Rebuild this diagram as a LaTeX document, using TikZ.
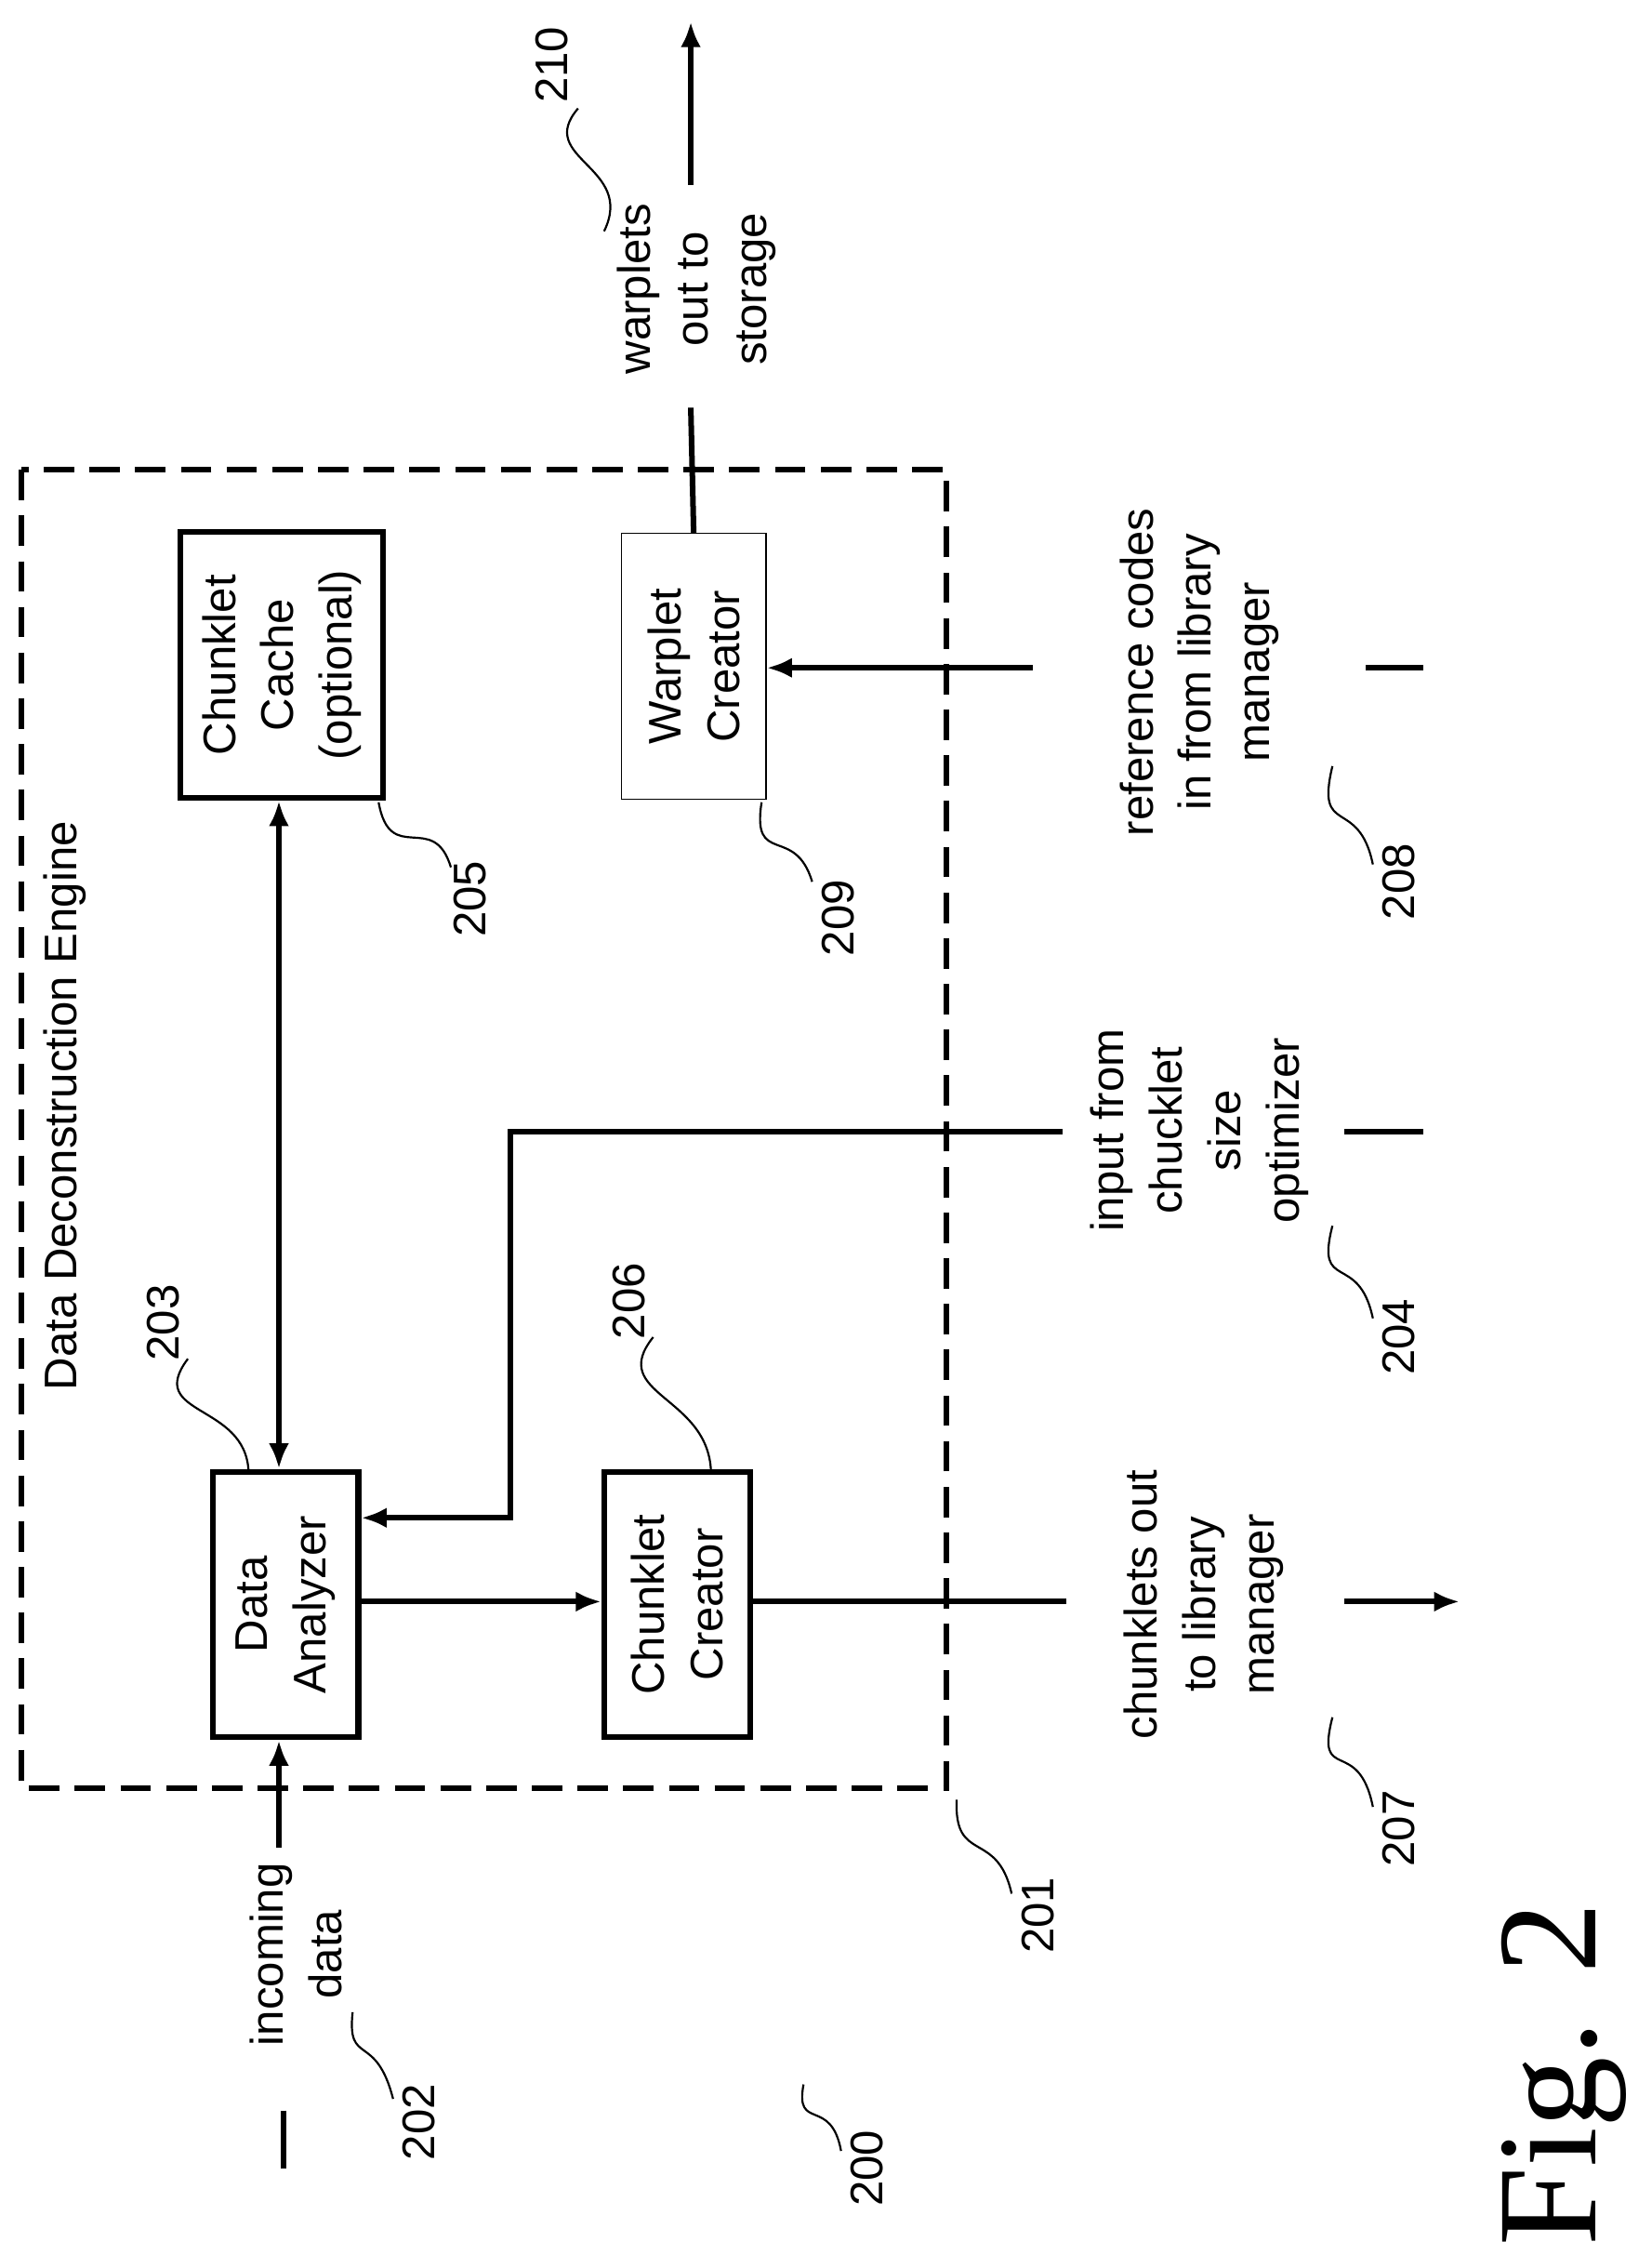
\documentclass[tikz,border=0pt]{standalone}
\usepackage{fontspec}
\setmainfont{Liberation Sans}
\newfontfamily\figfont{Liberation Serif}
\usetikzlibrary{arrows.meta,positioning}

\tikzset{
  lbl/.style={rotate=90, align=center, font=\fontsize{18}{23}\selectfont},
  num/.style={rotate=90, font=\fontsize{18}{22}\selectfont},
  blk/.style={draw, line width=2.2pt, rotate=90, align=center,
    minimum width=3.68cm, minimum height=2.02cm, inner sep=0pt,
    font=\fontsize{18}{23}\selectfont},
  flow/.style={line width=2.2pt},
  arr/.style={line width=2.2pt, -{Latex[length=10pt,width=8pt]}},
  lead/.style={line width=0.8pt},
}

\begin{document}
\begin{tikzpicture}[x=0.02cm, y=-0.02cm]
  \useasboundingbox (0,0) rectangle (1143,1560);
  % engine frame
  \draw[line width=2.2pt, dash pattern=on 12pt off 6pt] (15,325) rectangle (655,1237);
  \node[lbl] (title) at (45,765) {Data Deconstruction Engine};
  % blocks
  \node[blk] (da) at (197.5,1110) {Data\\Analyzer};
  \node[blk] (cc) at (468.5,1110) {Chunklet\\Creator};
  \node[blk, minimum height=2.8cm] (cache) at (195,460) {Chunklet\\Cache\\(optional)};
  \node[blk, line width=0.6pt, minimum height=2.0cm] (wc) at (480,461) {Warplet\\Creator};
  % outside labels
  \node[lbl] (inc) at (205,1352) {incoming\\data};
  \node[lbl] (wout) at (482,200) {warplets\\out to\\storage};
  \node[lbl] (cout) at (833,1110) {chunklets out\\to library\\manager};
  \node[lbl] (opt) at (830,782) {input from\\chucklet\\size\\optimizer};
  \node[lbl] (ref) at (830,465) {reference codes\\in from library\\manager};
  % line ends
  \coordinate (incA) at (193,1278);
  \coordinate (incB) at (196,1460);
  \coordinate (incC) at (196,1500);
  \coordinate (wA) at (478,282);
  \coordinate (wB) at (478,128);
  \coordinate (wC) at (478,15);
  \coordinate (cA) at (738,1108);
  \coordinate (cB) at (930,1108);
  \coordinate (cC) at (1010,1108);
  \coordinate (oA) at (735,783);
  \coordinate (oK) at (353,783);
  \coordinate (oB) at (930,783);
  \coordinate (oC) at (985,783);
  \coordinate (rA) at (715,462);
  \coordinate (rB) at (945,462);
  \coordinate (rC) at (985,462);
  % connectors
  \draw[arr] (incA) -- (da.west -| incA);
  \draw[flow] (incB) -- (incC);
  \draw[{Latex[length=10pt,width=8pt]}-{Latex[length=10pt,width=8pt]}, line width=2.2pt]
    (da.east -| 193,0) -- (cache.west -| 193,0);
  \draw[arr] (da.south |- 0,1108) -- (cc.north |- 0,1108);
  \draw[flow] (cc.south |- 0,1108) -- (cA);
  \draw[arr] (cB) -- (cC);
  \draw[arr] (oA) -- (oK) -- (353,1050) -- (da.south |- 0,1050);
  \draw[flow] (oB) -- (oC);
  \draw[arr] (rA) -- (wc.south |- 0,462);
  \draw[flow] (rB) -- (rC);
  \draw[flow] (wc.east) -- (wA);
  \draw[arr] (wB) -- (wC);
  % reference numerals
  \node[num] (n210) at (382,45) {210};
  \node[num] (n205) at (325,622) {205};
  \node[num] (n209) at (580,635) {209};
  \node[num] (n208) at (968,610) {208};
  \node[num] (n204) at (968,925) {204};
  \node[num] (n207) at (968,1265) {207};
  \node[num] (n203) at (113,915) {203};
  \node[num] (n206) at (435,900) {206};
  \node[num] (n201) at (718,1325) {201};
  \node[num] (n202) at (290,1468) {202};
  \node[num] (n200) at (600,1500) {200};
  \draw[lead] (400,75) .. controls (370,110) and (440,115) .. (418,160);
  \draw[lead] (312,600) .. controls (300,560) and (270,600) .. (262,555);
  \draw[lead] (562,610) .. controls (550,570) and (520,600) .. (527,555);
  \draw[lead] (950,598) .. controls (940,550) and (910,580) .. (922,530);
  \draw[lead] (950,912) .. controls (940,865) and (910,895) .. (922,848);
  \draw[lead] (950,1250) .. controls (940,1200) and (910,1235) .. (922,1188);
  \draw[lead] (130,940) .. controls (100,980) and (170,970) .. (172,1018);
  \draw[lead] (452,925) .. controls (420,965) and (490,965) .. (492,1018);
  \draw[lead] (700,1310) .. controls (690,1265) and (660,1290) .. (662,1245);
  \draw[lead] (272,1452) .. controls (260,1405) and (240,1430) .. (244,1392);
  \draw[lead] (582,1488) .. controls (575,1450) and (550,1475) .. (556,1442);
  \node[rotate=90, font=\figfont\fontsize{56}{60}\selectfont] (fig) at (1082,1435) {Fig. 2};
\end{tikzpicture}
\end{document}
